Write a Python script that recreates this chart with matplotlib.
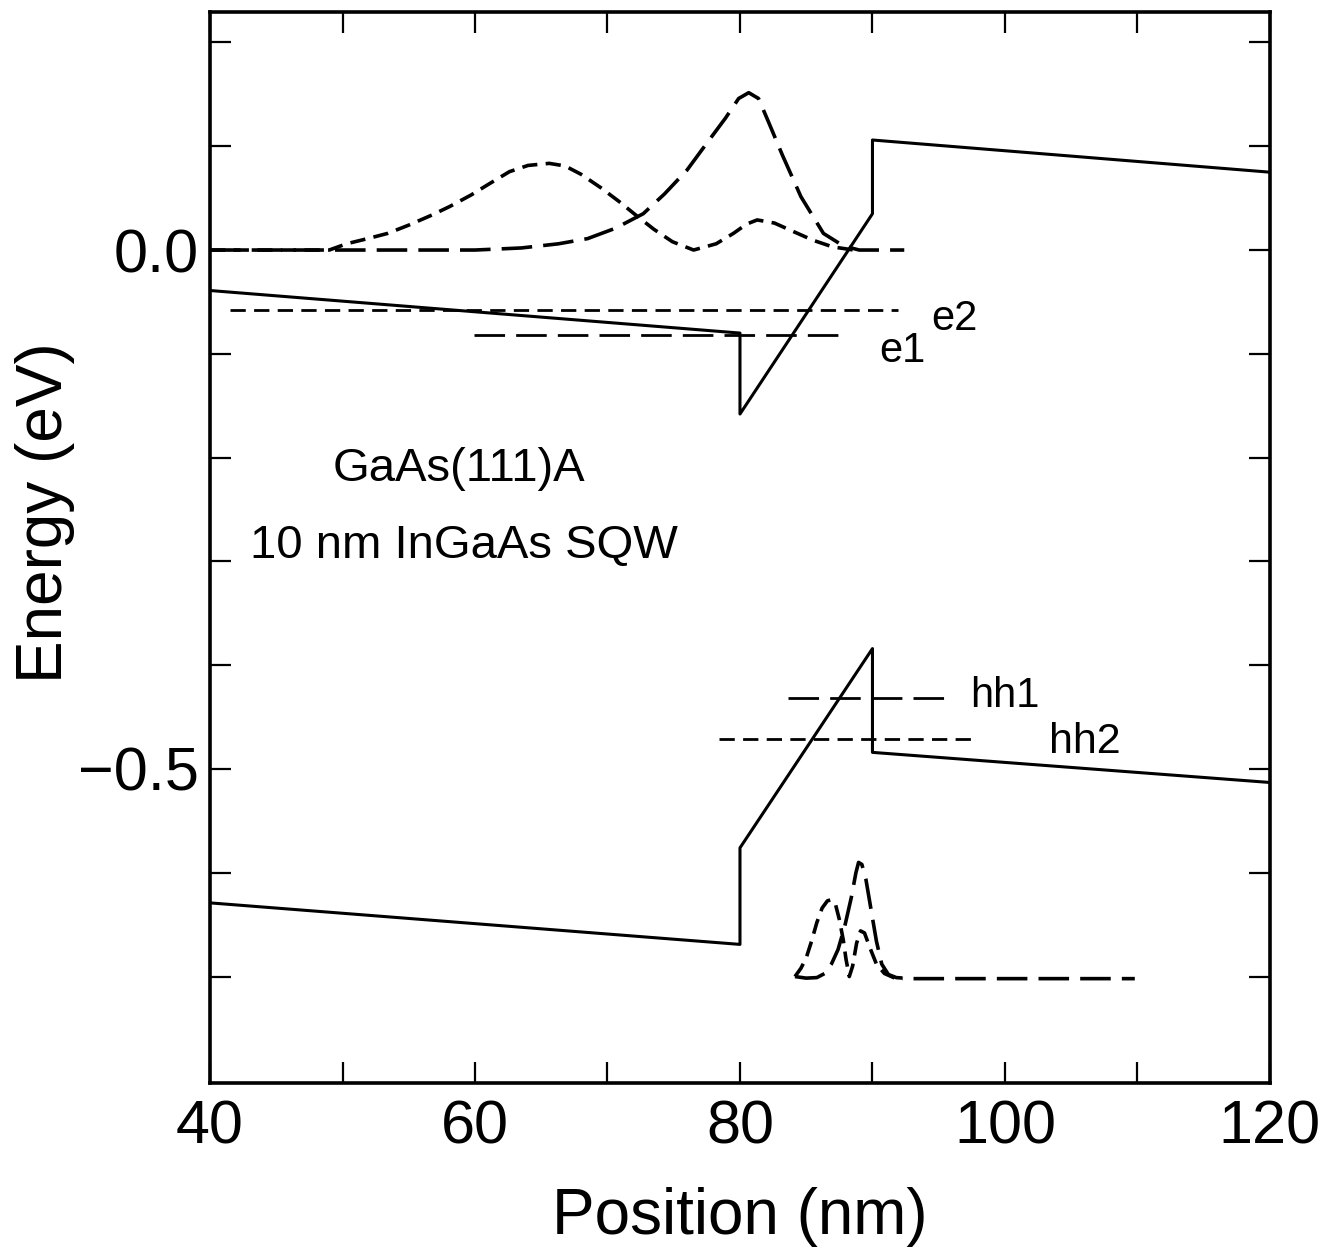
import matplotlib
matplotlib.use('Agg')
import matplotlib.pyplot as plt
from matplotlib import font_manager
import numpy as np

names = {f.name for f in font_manager.fontManager.ttflist}
font = 'Liberation Sans Narrow' if 'Liberation Sans Narrow' in names else 'Liberation Sans'
plt.rcParams['font.family'] = [font, 'DejaVu Sans']
plt.rcParams['lines.scale_dashes'] = False

# band edges (nm, eV)
cb_x = [40, 80, 80, 90, 90, 120]
cb_y = [-0.039, -0.080, -0.158, 0.035, 0.106, 0.075]
vb_x = [40, 80, 80, 90, 90, 120]
vb_y = [-0.629, -0.669, -0.576, -0.384, -0.484, -0.513]

# confined levels
e1_x, e1_y = [59.9, 88.0], -0.082
e2_x, e2_y = [41.5, 91.9], -0.058
hh1_x, hh1_y = [83.6, 95.6], -0.432
hh2_x, hh2_y = [78.4, 97.9], -0.471

# electron probability densities (offset to 0 eV)
e1wf_x = [40, 60, 63.5, 66.3, 68.5, 70.6, 72.7, 74.3, 76.0, 77.5, 78.9, 79.9,
          80.66, 81.4, 82.2, 83.2, 84.6, 86.3, 87.8, 89.0, 92.4]
e1wf_y = [0, 0, 0.002, 0.006, 0.011, 0.021, 0.035, 0.054, 0.077, 0.103, 0.127,
          0.146, 0.1516, 0.146, 0.122, 0.0915, 0.0514, 0.016, 0.004, 0.0, 0.0]
e2wf_x = [40, 49, 50.3, 51.9, 53.4, 55.0, 56.8, 58.1, 59.7, 61.1, 62.6, 64.0,
          65.6, 66.8, 68.0, 69.5, 70.9, 72.2, 73.5, 74.9, 76.5, 78.2, 79.5,
          80.5, 81.3, 82.6, 84.0, 85.5, 87.0, 88.6]
e2wf_y = [0, 0, 0.006, 0.011, 0.016, 0.024, 0.034, 0.042, 0.053, 0.064, 0.0755,
          0.0815, 0.0835, 0.081, 0.073, 0.060, 0.0465, 0.033, 0.020, 0.008, 0.0,
          0.006, 0.016, 0.025, 0.029, 0.026, 0.018, 0.0095, 0.003, 0.0]

# hole probability densities (offset to -0.702 eV)
hh1wf_x = [84.15, 85.0, 85.8, 86.4, 86.9, 87.4, 87.9, 88.4, 88.75, 88.95, 89.2,
           89.5, 89.9, 90.3, 90.7, 91.2, 91.8, 93, 100, 109.8]
hh1wf_y = [-0.700, -0.7015, -0.701, -0.697, -0.688, -0.674, -0.652, -0.624,
           -0.600, -0.590, -0.592, -0.606, -0.636, -0.666, -0.688, -0.698,
           -0.701, -0.702, -0.702, -0.702]
hh2wf_x = [84.15, 84.6, 85.0, 85.4, 85.8, 86.2, 86.6, 86.9, 87.2, 87.5, 87.8,
           88.0, 88.25, 88.5, 88.8, 89.1, 89.4, 89.8, 90.3, 90.9, 91.6, 92.3]
hh2wf_y = [-0.700, -0.692, -0.682, -0.666, -0.648, -0.634, -0.627, -0.626,
           -0.630, -0.645, -0.665, -0.683, -0.700, -0.690, -0.668, -0.656,
           -0.658, -0.672, -0.688, -0.697, -0.701, -0.702]

long_dash = (0, (22, 8))
short_dash = (0, (11, 6))

def fmt_energy(v, pos):
    if abs(v) < 1e-9:
        v = 0.0
    return ('%.1f' % v).replace('-', '\u2212')

fig = plt.figure(figsize=(13.42, 12.54), dpi=100)
ax = fig.add_axes([0.1565, 0.1364, 0.7898, 0.854])

ax.plot(cb_x, cb_y, 'k-', lw=2.2)
ax.plot(vb_x, vb_y, 'k-', lw=2.2)

ax.plot(e1_x, [e1_y] * 2, 'k', lw=2, linestyle=long_dash)
ax.plot(e2_x, [e2_y] * 2, 'k', lw=2, linestyle=short_dash)
ax.plot(hh1_x, [hh1_y] * 2, 'k', lw=2, linestyle=long_dash)
ax.plot(hh2_x, [hh2_y] * 2, 'k', lw=2, linestyle=short_dash)

ax.plot(e1wf_x, e1wf_y, 'k', lw=2.6, linestyle=long_dash)
ax.plot(e2wf_x, e2wf_y, 'k', lw=2.6, linestyle=short_dash)
ax.plot(hh1wf_x, hh1wf_y, 'k', lw=2.6, linestyle=long_dash)
ax.plot(hh2wf_x, hh2wf_y, 'k', lw=2.6, linestyle=short_dash)

ax.text(90.5, -0.108, 'e1', fontsize=30)
ax.text(94.4, -0.077, 'e2', fontsize=30)
ax.text(97.4, -0.440, 'hh1', fontsize=30)
ax.text(103.3, -0.485, 'hh2', fontsize=31)
ax.text(58.8, -0.223, 'GaAs(111)A', fontsize=34, ha='center')
ax.text(59.2, -0.297, '10 nm InGaAs SQW', fontsize=34, ha='center')

ax.set_xlim(40, 120)
ax.set_ylim(-0.8025, 0.2293)
ax.xaxis.set_major_locator(plt.MultipleLocator(20))
ax.xaxis.set_minor_locator(plt.MultipleLocator(10))
ax.yaxis.set_major_locator(plt.MultipleLocator(0.5))
ax.yaxis.set_minor_locator(plt.FixedLocator([-0.7, -0.6, -0.4, -0.3, -0.2, -0.1, 0.1, 0.2]))
ax.yaxis.set_major_formatter(plt.FuncFormatter(fmt_energy))
ax.tick_params(which='both', direction='in', top=True, right=True,
               length=15, width=1.6)
ax.tick_params(axis='x', labelsize=44, pad=12)
ax.tick_params(axis='y', labelsize=44, pad=8)
for s in ax.spines.values():
    s.set_linewidth(2.6)

ax.set_xlabel('Position (nm)', fontsize=46, labelpad=22)
ax.set_ylabel('Energy (eV)', fontsize=46, labelpad=2)
ax.yaxis.label.set_y(0.533)

fig.savefig('out.png', dpi=100)
